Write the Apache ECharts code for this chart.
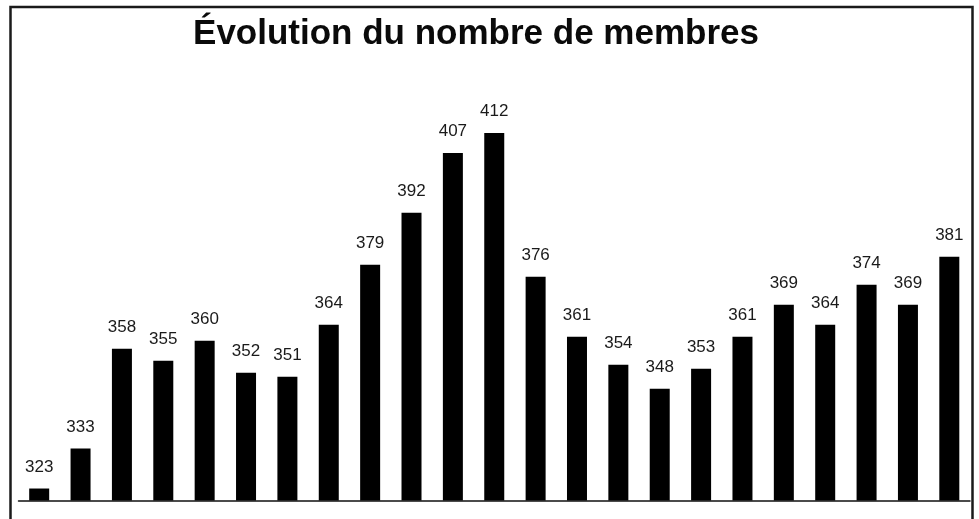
<!DOCTYPE html>
<html>
<head>
<meta charset="utf-8">
<script src="https://cdn.jsdelivr.net/npm/echarts@6/dist/echarts.min.js"></script>
<style>
html,body{margin:0;padding:0;background:#fff;}
#chart{width:979px;height:519px;}
</style>
</head>
<body>
<div id="chart"></div>
<script>
const titleText = 'Évolution du nombre de membres';
const categories = ['1','2','3','4','5','6','7','8','9','10','11','12','13','14','15','16','17','18','19','20','21','22','23'];
const members = [323, 333, 358, 355, 360, 352, 351, 364, 379, 392, 407, 412, 376, 361, 354, 348, 353, 361, 369, 364, 374, 369, 381];

const chart = echarts.init(document.getElementById('chart'), null, {renderer: 'canvas'});
chart.setOption({
  backgroundColor: '#ffffff',
  animation: false,
  title: {
    text: titleText,
    left: 476,
    textAlign: 'center',
    top: 17,
    padding: 0,
    textStyle: {
      fontFamily: 'Liberation Sans, Arial, sans-serif',
      fontWeight: 'bold',
      fontSize: 35,
      color: '#0a0a0a'
    }
  },
  grid: {left: 18.5, right: 9, top: 101, bottom: 18.5, containLabel: false},
  xAxis: {
    type: 'category',
    data: categories,
    axisLine: {show: true, lineStyle: {color: '#111', width: 1.5}},
    axisTick: {show: false},
    axisLabel: {show: false},
    splitLine: {show: false}
  },
  yAxis: {
    type: 'value',
    min: 320,
    max: 420,
    show: false,
    splitLine: {show: false}
  },
  series: [{
    type: 'bar',
    data: members,
    barWidth: 20,
    itemStyle: {color: '#000000'},
    label: {
      show: true,
      position: 'top',
      distance: 13,
      fontFamily: 'Liberation Sans, Arial, sans-serif',
      fontSize: 17,
      color: '#1a1a1a'
    }
  }],
  graphic: [{
    type: 'rect',
    shape: {x: 10.5, y: 7, width: 962, height: 530},
    style: {fill: 'none', stroke: '#1a1a1a', lineWidth: 2.5},
    silent: true
  }]
});
</script>
</body>
</html>
